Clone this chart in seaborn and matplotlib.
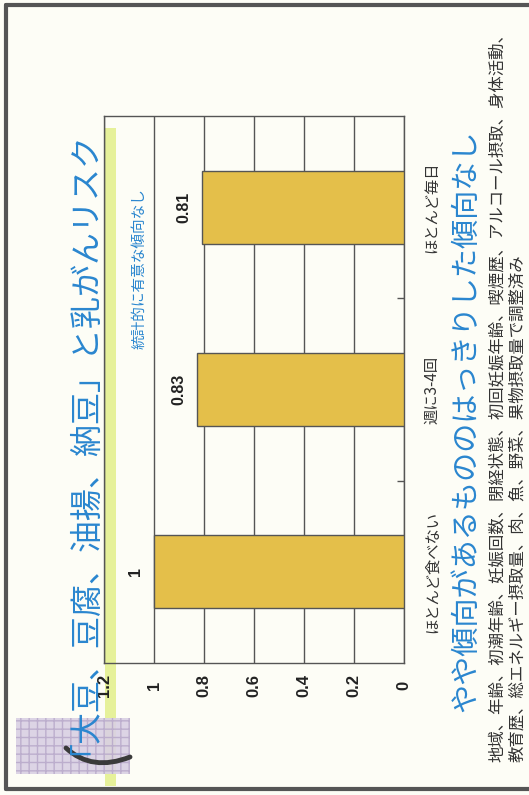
import numpy as np
import pandas as pd
import matplotlib
matplotlib.use("Agg")
import matplotlib.pyplot as plt
import seaborn as sns
from matplotlib.patches import Rectangle, PathPatch
from matplotlib.path import Path

# --- data -------------------------------------------------------------
categories = ["ほとんど食べない", "週に3-4回", "ほとんど毎日"]
risk_ratio = [1.0, 0.83, 0.81]
value_labels = ["1", "0.83", "0.81"]
value_ticks = [0, 0.2, 0.4, 0.6, 0.8, 1.0, 1.2]
value_tick_labels = ["0", "0.2", "0.4", "0.6", "0.8", "1", "1.2"]

title = "「大豆、豆腐、油揚、納豆」と乳がんリスク"
note_sig = "統計的に有意な傾向なし"
headline = "やや傾向があるもののはっきりした傾向なし"
footnote_1 = "地域、年齢、初潮年齢、妊娠回数、閉経状態、初回妊娠年齢、喫煙歴、アルコール摂取、身体活動、"
footnote_2 = "教育歴、総エネルギー摂取量、肉、魚、野菜、果物摂取量で調整済み"

df = pd.DataFrame({"category": categories, "value": risk_ratio})

# --- style ------------------------------------------------------------
sns.set_theme(style="white")
JP = ["Noto Sans CJK JP", "DejaVu Sans"]
LAT = ["Liberation Sans", "DejaVu Sans"]
plt.rcParams["font.family"] = JP

W, H = 529, 795
DPI = 100
PAGE = "#fdfdf6"
BLUE = "#2a86cf"
INK = "#333333"
BAR = "#e4bf4a"

fig = plt.figure(figsize=(W / DPI, H / DPI), dpi=DPI, facecolor=PAGE)


def fx(x):
    return x / W


def fy(y):
    return 1 - y / H


# page frame lines
for (x0, y0, x1, y1) in [(6, 5, 6, 789), (6, 5, 529, 5), (6, 789, 529, 789)]:
    fig.add_artist(plt.Line2D([fx(x0), fx(x1)], [fy(y0), fy(y1)],
                              color="#555555", lw=3, transform=fig.transFigure))

# highlighter stripe along the 1.2 gridline
fig.add_artist(Rectangle((fx(105), fy(786)), fx(11), 658 / H,
                         transform=fig.transFigure, facecolor="#e2ef8a",
                         edgecolor="none", alpha=0.85, zorder=-1))

# purple marker smudge and pen stroke near the bottom-left
fig.add_artist(Rectangle((fx(16), fy(774)), fx(114), 56 / H,
                         transform=fig.transFigure, facecolor="#d9d0e4",
                         edgecolor="#b9aacb", hatch="++", lw=0, alpha=0.9,
                         zorder=-1))
stroke = Path([(fx(66), fy(748)), (fx(92), fy(772)), (fx(130), fy(757))],
              [Path.MOVETO, Path.CURVE3, Path.CURVE3])
fig.add_artist(PathPatch(stroke, transform=fig.transFigure, facecolor="none",
                         edgecolor="#3a3a3a", lw=3.5, capstyle="round"))

# --- chart ------------------------------------------------------------
left, right, top, bottom = 104, 404, 116, 663
ax = fig.add_axes([fx(left), fy(bottom), (right - left) / W, (bottom - top) / H])
ax.set_facecolor("none")

order = categories[::-1]
sns.barplot(data=df, x="value", y="category", order=order, orient="h",
            color=BAR, width=0.4, edgecolor="#555555", linewidth=1,
            saturation=1, ax=ax, zorder=3)

ax.set_xlim(1.2, 0)
ax.set_xticks(value_ticks)
ax.set_xticklabels(value_tick_labels, rotation=90, fontweight="bold",
                   fontsize=12, family=LAT, color="#222222")
ax.tick_params(axis="x", length=0, pad=16)
for lab in ax.get_xticklabels():
    lab.set_verticalalignment("center")
ax.grid(axis="x", color="#555555", lw=1, zorder=1)
ax.set_axisbelow(True)

ax.yaxis.tick_right()
ax.set_yticks(range(len(order)))
ax.set_yticklabels(order, rotation=90, va="center", fontsize=11,
                   color=INK, family=JP)
ax.tick_params(axis="y", length=0, pad=14)
ax.set_yticks([0.5, 1.5], minor=True)
ax.tick_params(axis="y", which="minor", right=True, direction="in",
               length=5, color="#555555")
ax.set_xlabel("")
ax.set_ylabel("")
for s in ax.spines.values():
    s.set_color("#555555")
    s.set_linewidth(1)
    s.set_visible(True)

# value labels beside each bar end
for cat, v, lab in zip(categories, risk_ratio, value_labels):
    ax.annotate(lab, (v, order.index(cat)), xytext=(-13, 0),
                textcoords="offset points", rotation=90, ha="center",
                va="center", fontsize=11.5, fontweight="bold",
                family=LAT, color="#222222")

# --- text -------------------------------------------------------------
fig.text(fx(68), fy(435), title, rotation=90, ha="center", va="center",
         fontsize=23, color=BLUE, family=JP)
fig.text(fx(139), fy(188), note_sig, rotation=90, ha="center", va="top",
         fontsize=10.5, color=BLUE, family=JP)
fig.text(fx(466), fy(421), headline, rotation=90, ha="center", va="center",
         fontsize=21, color=BLUE, family=JP)
fig.text(fx(497), fy(762), footnote_1, rotation=90, ha="center", va="bottom",
         fontsize=11.8, color=INK, family=JP)
fig.text(fx(518), fy(762), footnote_2, rotation=90, ha="center", va="bottom",
         fontsize=11.8, color=INK, family=JP)

fig.savefig("out.png", dpi=DPI, facecolor=PAGE)
